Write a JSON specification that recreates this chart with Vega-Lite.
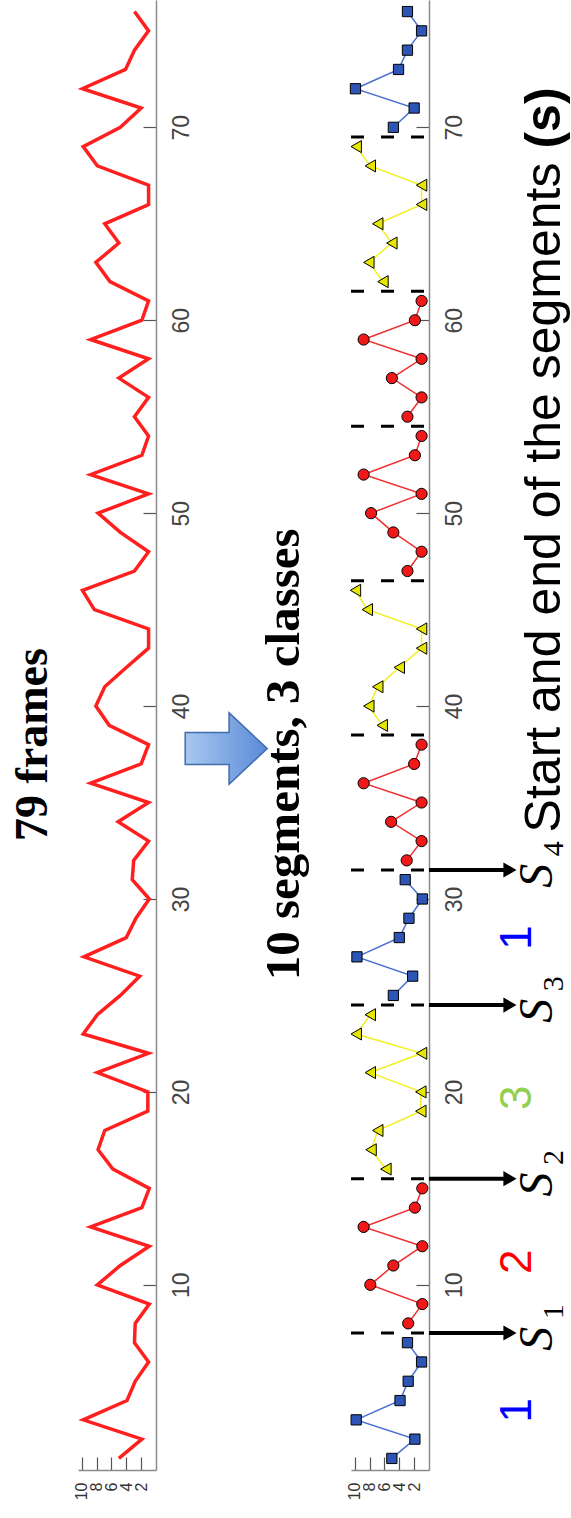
{
  "$schema": "https://vega.github.io/schema/vega-lite/v6.json",
  "background": "white",
  "padding": {"left": 10, "top": 0, "right": 0, "bottom": 0},
  "bounds": "flush",
  "spacing": 195,
  "config": {"view": {"stroke": null}},
  "datasets": {
    "frames": [
      {"f":1,"v":5.0,"seg":1,"cls":"1"},{"f":2,"v":1.9,"seg":1,"cls":"1"},{"f":3,"v":9.8,"seg":1,"cls":"1"},{"f":4,"v":3.9,"seg":1,"cls":"1"},{"f":5,"v":2.8,"seg":1,"cls":"1"},{"f":6,"v":1.0,"seg":1,"cls":"1"},{"f":7,"v":2.9,"seg":1,"cls":"1"},
      {"f":8,"v":2.8,"seg":2,"cls":"2"},{"f":9,"v":0.9,"seg":2,"cls":"2"},{"f":10,"v":7.9,"seg":2,"cls":"2"},{"f":11,"v":4.8,"seg":2,"cls":"2"},{"f":12,"v":0.9,"seg":2,"cls":"2"},{"f":13,"v":8.8,"seg":2,"cls":"2"},{"f":14,"v":1.9,"seg":2,"cls":"2"},{"f":15,"v":0.9,"seg":2,"cls":"2"},
      {"f":16,"v":5.8,"seg":3,"cls":"3"},{"f":17,"v":7.8,"seg":3,"cls":"3"},{"f":18,"v":6.9,"seg":3,"cls":"3"},{"f":19,"v":1.1,"seg":3,"cls":"3"},{"f":20,"v":1.1,"seg":3,"cls":"3"},{"f":21,"v":7.9,"seg":3,"cls":"3"},{"f":22,"v":1.0,"seg":3,"cls":"3"},{"f":23,"v":9.8,"seg":3,"cls":"3"},{"f":24,"v":7.9,"seg":3,"cls":"3"},
      {"f":25,"v":4.8,"seg":4,"cls":"1"},{"f":26,"v":2.2,"seg":4,"cls":"1"},{"f":27,"v":9.7,"seg":4,"cls":"1"},{"f":28,"v":4.0,"seg":4,"cls":"1"},{"f":29,"v":2.7,"seg":4,"cls":"1"},{"f":30,"v":0.9,"seg":4,"cls":"1"},{"f":31,"v":3.2,"seg":4,"cls":"1"},
      {"f":32,"v":3.0,"seg":5,"cls":"2"},{"f":33,"v":1.0,"seg":5,"cls":"2"},{"f":34,"v":5.1,"seg":5,"cls":"2"},{"f":35,"v":1.0,"seg":5,"cls":"2"},{"f":36,"v":8.8,"seg":5,"cls":"2"},{"f":37,"v":2.0,"seg":5,"cls":"2"},{"f":38,"v":1.0,"seg":5,"cls":"2"},
      {"f":39,"v":6.3,"seg":6,"cls":"3"},{"f":40,"v":8.1,"seg":6,"cls":"3"},{"f":41,"v":6.9,"seg":6,"cls":"3"},{"f":42,"v":4.0,"seg":6,"cls":"3"},{"f":43,"v":1.0,"seg":6,"cls":"3"},{"f":44,"v":1.0,"seg":6,"cls":"3"},{"f":45,"v":8.3,"seg":6,"cls":"3"},{"f":46,"v":9.9,"seg":6,"cls":"3"},
      {"f":47,"v":2.9,"seg":7,"cls":"2"},{"f":48,"v":1.0,"seg":7,"cls":"2"},{"f":49,"v":4.8,"seg":7,"cls":"2"},{"f":50,"v":7.8,"seg":7,"cls":"2"},{"f":51,"v":1.0,"seg":7,"cls":"2"},{"f":52,"v":8.8,"seg":7,"cls":"2"},{"f":53,"v":1.9,"seg":7,"cls":"2"},{"f":54,"v":1.0,"seg":7,"cls":"2"},
      {"f":55,"v":2.9,"seg":8,"cls":"2"},{"f":56,"v":1.0,"seg":8,"cls":"2"},{"f":57,"v":5.0,"seg":8,"cls":"2"},{"f":58,"v":1.0,"seg":8,"cls":"2"},{"f":59,"v":8.8,"seg":8,"cls":"2"},{"f":60,"v":1.9,"seg":8,"cls":"2"},{"f":61,"v":1.0,"seg":8,"cls":"2"},
      {"f":62,"v":6.2,"seg":9,"cls":"3"},{"f":63,"v":8.1,"seg":9,"cls":"3"},{"f":64,"v":5.0,"seg":9,"cls":"3"},{"f":65,"v":6.9,"seg":9,"cls":"3"},{"f":66,"v":1.0,"seg":9,"cls":"3"},{"f":67,"v":1.0,"seg":9,"cls":"3"},{"f":68,"v":7.9,"seg":9,"cls":"3"},{"f":69,"v":9.8,"seg":9,"cls":"3"},
      {"f":70,"v":4.8,"seg":10,"cls":"1"},{"f":71,"v":2.0,"seg":10,"cls":"1"},{"f":72,"v":9.9,"seg":10,"cls":"1"},{"f":73,"v":4.1,"seg":10,"cls":"1"},{"f":74,"v":2.9,"seg":10,"cls":"1"},{"f":75,"v":1.0,"seg":10,"cls":"1"},{"f":76,"v":2.9,"seg":10,"cls":"1"}
    ],
    "segb": [{"f":7.5,"v":10.5,"v2":0},{"f":15.5,"v":10.5,"v2":0},{"f":24.5,"v":10.5,"v2":0},{"f":31.5,"v":10.5,"v2":0},{"f":38.5,"v":10.5,"v2":0},{"f":46.5,"v":10.5,"v2":0},{"f":54.5,"v":10.5,"v2":0},{"f":61.5,"v":10.5,"v2":0},{"f":69.5,"v":10.5,"v2":0}],
    "sarr": [{"f":7.5,"v":0,"v2":-10.3,"vh":-10.9,"vs":-14.7,"fs":7.2,"vk":-16.8,"fk":8.6,"k":"1"},
             {"f":15.5,"v":0,"v2":-10.3,"vh":-10.9,"vs":-14.7,"fs":15.2,"vk":-16.8,"fk":16.6,"k":"2"},
             {"f":24.5,"v":0,"v2":-10.3,"vh":-10.9,"vs":-14.7,"fs":24.2,"vk":-16.8,"fk":25.6,"k":"3"},
             {"f":31.5,"v":0,"v2":-10.3,"vh":-10.9,"vs":-14.7,"fs":31.2,"vk":-16.8,"fk":32.6,"k":"4"}]
  },
  "hconcat": [
    {
      "width": 78,
      "height": 1470,
      "encoding": {
        "y": {"field":"f","type":"quantitative","scale":{"domain":[0.4,76.6],"nice":false,"zero":false},
              "axis":{"orient":"right","values":[10,20,30,40,50,60,70],"title":null,"grid":false,"domainColor":"#8a8a8a","domainWidth":1.5,"tickColor":"#555555","tickSize":-13,"tickWidth":1.2,"labelAngle":270,"labelAlign":"center","labelBaseline":"top","labelPadding":27,"labelFontSize":23,"labelColor":"#444444","labelFont":"Liberation Sans"}},
        "x": {"field":"v","type":"quantitative","scale":{"domain":[0,10.5],"reverse":true,"nice":false,"zero":false},
              "axis":{"orient":"bottom","values":[2,4,6,8,10],"title":null,"grid":false,"domainColor":"#8a8a8a","domainWidth":1.5,"tickColor":"#555555","tickSize":-13,"tickWidth":1.2,"labelAngle":270,"labelAlign":"right","labelBaseline":"middle","labelPadding":25,"labelFontSize":16,"labelColor":"#333333","labelFont":"Liberation Sans","labelOverlap":false}}
      },
      "layer": [
        {"data":{"name":"frames"},"mark":{"type":"line","color":"#FF1F1F","strokeWidth":3.5},"encoding":{"order":{"field":"f","type":"quantitative"}}},
        {"data":{"values":[{"t":"79 frames","f":38.0,"v":16.5}]},
         "mark":{"type":"text","font":"Liberation Serif","fontWeight":"bold","fontSize":46,"angle":270,"align":"center","baseline":"middle","color":"black"},
         "encoding":{"text":{"field":"t"}}}
      ]
    },
    {
      "width": 78,
      "height": 1470,
      "encoding": {
        "y": {"field":"f","type":"quantitative","scale":{"domain":[0.4,76.6],"nice":false,"zero":false},
              "axis":{"orient":"right","values":[10,20,30,40,50,60,70],"title":null,"grid":false,"domainColor":"#8a8a8a","domainWidth":1.5,"tickColor":"#555555","tickSize":-13,"tickWidth":1.2,"labelAngle":270,"labelAlign":"center","labelBaseline":"top","labelPadding":27,"labelFontSize":23,"labelColor":"#444444","labelFont":"Liberation Sans"}},
        "x": {"field":"v","type":"quantitative","scale":{"domain":[0,10.5],"reverse":true,"nice":false,"zero":false},
              "axis":{"orient":"bottom","values":[2,4,6,8,10],"title":null,"grid":false,"domainColor":"#8a8a8a","domainWidth":1.5,"tickColor":"#555555","tickSize":-13,"tickWidth":1.2,"labelAngle":270,"labelAlign":"right","labelBaseline":"middle","labelPadding":25,"labelFontSize":16,"labelColor":"#333333","labelFont":"Liberation Sans","labelOverlap":false}}
      },
      "layer": [
        {"data":{"name":"segb"},"mark":{"type":"rule","color":"black","strokeWidth":3,"strokeDash":[13,17]},
         "encoding":{"x2":{"field":"v2"}}},
        {"data":{"name":"sarr"},"mark":{"type":"rule","color":"black","strokeWidth":4},
         "encoding":{"x2":{"field":"v2"}}},
        {"data":{"name":"sarr"},"mark":{"type":"point","shape":"triangle-right","filled":true,"color":"black","size":230,"opacity":1},
         "encoding":{"x":{"field":"vh","type":"quantitative"}}},
        {"data":{"name":"frames"},"mark":{"type":"line","strokeWidth":1.5},
         "encoding":{"order":{"field":"f","type":"quantitative"},"detail":{"field":"seg"},"color":{"field":"cls","type":"nominal","scale":{"domain":["1","2","3"],"range":["#4A6FD4","#F03030","#F2F020"]},"legend":null}}},
        {"data":{"name":"frames"},"mark":{"type":"point","filled":true,"stroke":"black","strokeWidth":1,"opacity":1},
         "encoding":{
           "shape":{"field":"cls","type":"nominal","scale":{"domain":["1","2","3"],"range":["square","circle","triangle-left"]},"legend":null},
           "fill":{"field":"cls","type":"nominal","scale":{"domain":["1","2","3"],"range":["#2D55B5","#F01818","#E6E600"]},"legend":null},
           "size":{"field":"cls","type":"nominal","scale":{"domain":["1","2","3"],"range":[105,145,170]},"legend":null}}},
        {"data":{"values":[{"t":"1","f":3.5,"v":-12.0},{"t":"1","f":28.0,"v":-12.0}]},
         "mark":{"type":"text","font":"Liberation Sans","fontSize":44,"angle":270,"align":"center","baseline":"middle","color":"#0000FF"},
         "encoding":{"text":{"field":"t"}}},
        {"data":{"values":[{"t":"2","f":11.2,"v":-12.0}]},
         "mark":{"type":"text","font":"Liberation Sans","fontSize":44,"angle":270,"align":"center","baseline":"middle","color":"#FF0000"},
         "encoding":{"text":{"field":"t"}}},
        {"data":{"values":[{"t":"3","f":19.7,"v":-12.0}]},
         "mark":{"type":"text","font":"Liberation Sans","fontSize":44,"angle":270,"align":"center","baseline":"middle","color":"#92D050"},
         "encoding":{"text":{"field":"t"}}},
        {"data":{"name":"sarr"},
         "mark":{"type":"text","font":"Liberation Serif","fontStyle":"italic","fontSize":48,"angle":270,"align":"center","baseline":"middle","color":"black","text":"S"},
         "encoding":{"x":{"field":"vs","type":"quantitative"},"y":{"field":"fs","type":"quantitative"}}},
        {"data":{"name":"sarr"},
         "mark":{"type":"text","font":"Liberation Serif","fontSize":30,"angle":270,"align":"center","baseline":"middle","color":"black"},
         "encoding":{"x":{"field":"vk","type":"quantitative"},"y":{"field":"fk","type":"quantitative"},"text":{"field":"k"}}},
        {"data":{"values":[{"t":"10 segments, 3 classes","f":37.5,"v":19.5}]},
         "mark":{"type":"text","font":"Liberation Serif","fontWeight":"bold","fontSize":49,"angle":270,"align":"center","baseline":"middle","color":"black"},
         "encoding":{"text":{"field":"t"}}},
        {"data":{"values":[{"t":"Start and end of the segments","f":33.45,"v":-15.6}]},
         "mark":{"type":"text","font":"Liberation Sans","fontSize":50,"angle":270,"align":"left","baseline":"middle","color":"black"},
         "encoding":{"text":{"field":"t"}}},
        {"data":{"values":[{"t":"(s)","f":68.9,"v":-15.6}]},
         "mark":{"type":"text","font":"Liberation Sans","fontWeight":"bold","fontSize":50,"angle":270,"align":"left","baseline":"middle","color":"black"},
         "encoding":{"text":{"field":"t"}}},
        {"data":{"values":[{"f":37.8,"v":27.3}]},
         "mark":{"type":"point","shape":"M -1 -0.39 L 0.07 -0.39 L 0.07 -0.87 L 1 0 L 0.07 0.87 L 0.07 0.39 L -1 0.39 Z","filled":true,"opacity":1,"size":6724,
                 "fill":{"gradient":"linear","x1":0,"y1":0,"x2":1,"y2":0,"stops":[{"offset":0,"color":"#A8C8F0"},{"offset":1,"color":"#5A8AD6"}]},
                 "stroke":"#3F6DB0","strokeWidth":1.5}}
      ]
    }
  ]
}
